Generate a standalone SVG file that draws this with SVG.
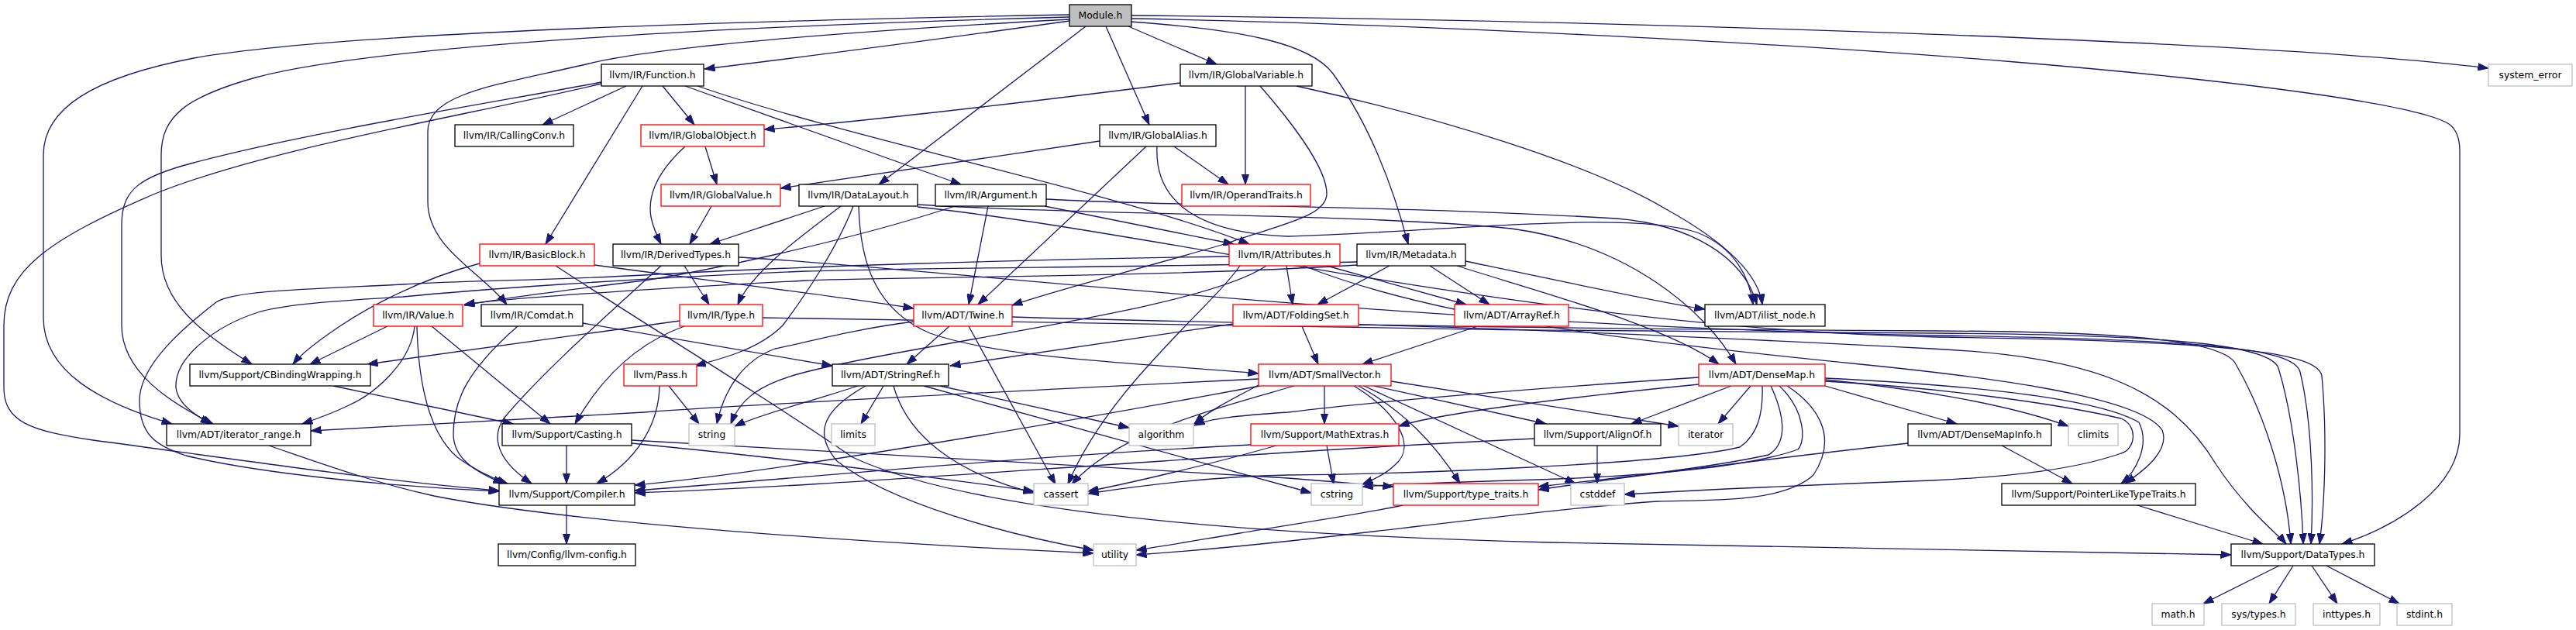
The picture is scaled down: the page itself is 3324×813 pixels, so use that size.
<svg xmlns="http://www.w3.org/2000/svg" width="3324" height="813" viewBox="0 0 3324 813">
<defs>
<marker id="arr" markerUnits="userSpaceOnUse" markerWidth="14" markerHeight="10" refX="13.5" refY="5" orient="auto">
<path d="M0,0.3 L13.5,5 L0,9.7 z" fill="#191970" stroke="#191970" stroke-width="1"/>
</marker>
<style>
.e{fill:none;stroke:#191970;stroke-width:1.3;marker-end:url(#arr)}
.n rect{fill:#fff;stroke:#000;stroke-width:1.3}
.r rect{fill:#fff;stroke:#ff0000;stroke-width:1.3}
.g rect{fill:#fff;stroke:#bfbfbf;stroke-width:1.3}
.m rect{fill:#bfbfbf;stroke:#000;stroke-width:1.3}
text{font-family:"DejaVu Sans","Liberation Sans",sans-serif;font-size:12.4px;fill:#000;text-anchor:middle}
</style>
</defs>
<rect width="3324" height="813" fill="#fff"/>
<g id="edges">
<path class="e" d="M1380,27 C1230,48 1050,72 909,89"/>
<path class="e" d="M1380,19 C1000,26 450,40 250,75 C120,100 56,140 56,200 L56,410 C56,480 130,520 222,547"/>
<path class="e" d="M1380,22 C1000,32 500,55 330,100 C240,125 208,150 208,200 L208,330 C208,390 260,430 325,470"/>
<path class="e" d="M1380,25 C1100,40 850,60 760,82 C640,110 552,120 552,170 L552,260 C552,320 620,350 654,393"/>
<path class="e" d="M1401,34 L1134,238"/>
<path class="e" d="M1427,34 L1483,161"/>
<path class="e" d="M1456,34 L1570,83"/>
<path class="e" d="M1458,28 C1600,38 1690,55 1720,95 C1770,165 1800,250 1817,315"/>
<path class="e" d="M1460,24 C1800,30 2300,55 2600,80 C2900,105 3120,135 3160,160 C3170,167 3174,178 3174,195 L3174,560 C3174,630 3090,680 3022,702"/>
<path class="e" d="M1460,20 C2000,25 2900,50 3211,88"/>
<path class="e" d="M808,111 L700,161"/>
<path class="e" d="M855,111 L896,161"/>
<path class="e" d="M829,111 L704,315"/>
<path class="e" d="M884,111 L1240,238"/>
<path class="e" d="M900,111 C1100,180 1450,250 1612,315"/>
<path class="e" d="M776,106 C650,130 400,170 250,210 C180,228 157,245 157,290 L157,420 C157,480 220,520 275,547"/>
<path class="e" d="M776,108 C600,150 350,190 200,250 C60,310 5,350 5,420 L5,500 C5,545 40,556 120,568 C300,592 500,622 644,633"/>
<path class="e" d="M1523,107 C1300,135 1100,158 986,167"/>
<path class="e" d="M1607,111 L1607,238"/>
<path class="e" d="M1626,111 C1660,150 1712,215 1712,250 C1712,280 1650,290 1580,315 C1460,350 1360,375 1306,394"/>
<path class="e" d="M1673,111 C1850,150 2050,210 2150,270 C2240,320 2270,360 2274,393"/>
<path class="e" d="M1419,182 L1007,243"/>
<path class="e" d="M1479,189 L1262,393"/>
<path class="e" d="M1515,189 L1585,238"/>
<path class="e" d="M1493,189 C1490,250 1530,300 1662,305 C1850,300 2100,270 2190,300 C2240,320 2258,360 2262,393"/>
<path class="e" d="M1275,266 L1250,393"/>
<path class="e" d="M1348,266 L1592,315"/>
<path class="e" d="M1350,257 C1500,266 1800,265 2086,282 C2180,290 2250,330 2267,393"/>
<path class="e" d="M1232,266 C1100,310 900,352 831,362 C700,378 640,386 599,394"/>
<path class="e" d="M1064,266 L916,315"/>
<path class="e" d="M1085,266 C1040,300 970,350 952,393"/>
<path class="e" d="M1101,266 C1080,320 1040,380 1010,420 C980,450 935,462 897,472"/>
<path class="e" d="M1108,266 C1110,340 1130,400 1200,430 C1300,465 1500,470 1624,482"/>
<path class="e" d="M1184,264 C1400,278 1750,275 1950,295 C2100,315 2200,400 2240,470"/>
<path class="e" d="M1184,267 C1500,300 2000,425 2500,435 C2880,440 2990,455 2996,485 C3003,560 3000,650 2993,702"/>
<path class="e" d="M910,189 L925,238"/>
<path class="e" d="M884,189 C850,220 835,250 840,280 C843,295 848,305 853,315"/>
<path class="e" d="M918,266 L890,315"/>
<path class="e" d="M619,340 C540,360 470,400 440,420 C410,440 390,455 378,470"/>
<path class="e" d="M767,342 C900,360 1100,385 1179,398"/>
<path class="e" d="M717,343 C850,430 1000,520 1100,590 C1250,660 1600,690 2000,700 C2400,708 2700,712 2879,716"/>
<path class="e" d="M1660,343 L1668,393"/>
<path class="e" d="M1712,343 L1892,393"/>
<path class="e" d="M1682,343 C1850,410 2100,440 2400,470 C2550,485 2760,510 2790,555 C2800,580 2770,605 2742,624"/>
<path class="e" d="M1634,343 C1550,400 1200,440 1040,480 C980,495 955,515 943,547"/>
<path class="e" d="M1600,343 C1560,400 1430,500 1378,625"/>
<path class="e" d="M1586,331 C1300,335 1000,345 831,355 C700,362 600,362 520,367 C400,373 300,375 279,390 C240,420 180,470 180,517 C180,560 200,575 240,588 C330,610 500,628 644,634"/>
<path class="e" d="M1793,343 L1700,393"/>
<path class="e" d="M1845,343 L1922,393"/>
<path class="e" d="M1891,337 C2000,360 2150,392 2200,399"/>
<path class="e" d="M1880,343 C1980,375 2150,420 2218,470"/>
<path class="e" d="M1751,342 C1500,358 1100,358 1040,362 C800,375 650,385 599,393"/>
<path class="e" d="M1751,338 C1500,345 1200,345 1040,350 C800,360 600,375 520,383 C400,390 360,395 333,403 C280,420 225,460 227,500 C229,520 250,535 272,547"/>
<path class="e" d="M883,343 L915,393"/>
<path class="e" d="M853,343 C780,410 700,480 650,540 C630,570 650,600 686,624"/>
<path class="e" d="M953,332 C1200,345 1800,420 2500,433 C2850,438 2960,450 2968,480 C2985,550 2985,650 2982,702"/>
<path class="e" d="M500,421 L400,470"/>
<path class="e" d="M535,421 C530,470 480,510 450,523 C430,533 410,540 390,547"/>
<path class="e" d="M538,421 C540,500 555,560 590,590 C610,605 630,615 655,624"/>
<path class="e" d="M557,421 L710,547"/>
<path class="e" d="M668,421 C600,480 585,520 585,560 C585,590 610,608 650,624"/>
<path class="e" d="M752,417 L1074,472"/>
<path class="e" d="M883,421 C830,440 780,480 742,547"/>
<path class="e" d="M877,414 L474,470"/>
<path class="e" d="M984,410 C1300,418 2000,428 2500,430 C2800,432 2930,445 2940,475 C2960,540 2970,640 2972,702"/>
<path class="e" d="M1225,421 L1170,470"/>
<path class="e" d="M1250,421 L1362,625"/>
<path class="e" d="M1179,415 C1100,425 1040,442 1000,450 C960,465 935,500 925,547"/>
<path class="e" d="M1306,409 C1500,415 2000,425 2500,427 C2750,428 2870,440 2885,470 C2920,530 2950,620 2956,702"/>
<path class="e" d="M1680,421 L1701,470"/>
<path class="e" d="M1591,418 L1226,472"/>
<path class="e" d="M1753,419 C2000,425 2300,440 2493,450 C2700,460 2800,500 2860,600 C2900,660 2940,690 2950,702"/>
<path class="e" d="M1907,421 L1758,470"/>
<path class="e" d="M430,498 L662,547"/>
<path class="e" d="M863,498 L902,547"/>
<path class="e" d="M851,498 C850,550 820,595 770,624"/>
<path class="e" d="M1140,498 L1111,547"/>
<path class="e" d="M1107,498 C1040,520 980,535 948,550"/>
<path class="e" d="M1153,498 C1170,560 1230,610 1334,636"/>
<path class="e" d="M1213,498 L1457,552"/>
<path class="e" d="M1117,498 C1060,530 1050,560 1080,595 C1150,650 1300,690 1411,710"/>
<path class="e" d="M1192,498 L1692,636"/>
<path class="e" d="M1709,498 L1709,547"/>
<path class="e" d="M1747,498 C1800,530 1830,575 1800,600 C1790,610 1775,618 1758,625"/>
<path class="e" d="M1753,498 C1810,530 1850,570 1884,624"/>
<path class="e" d="M1760,498 L2033,624"/>
<path class="e" d="M1773,498 L1995,547"/>
<path class="e" d="M1795,492 L2166,550"/>
<path class="e" d="M1624,497 C1590,515 1560,530 1541,547"/>
<path class="e" d="M1670,498 C1560,530 1440,560 1383,625"/>
<path class="e" d="M1624,489 C1400,500 1000,520 831,532 C600,545 450,552 401,556"/>
<path class="e" d="M1626,498 C1400,540 1000,610 819,626"/>
<path class="e" d="M2192,496 C2000,515 1850,535 1805,550"/>
<path class="e" d="M2192,487 C2000,500 1800,515 1662,532 C1600,536 1560,540 1541,549"/>
<path class="e" d="M2234,498 L2105,547"/>
<path class="e" d="M2259,498 L2217,547"/>
<path class="e" d="M2274,498 C2275,530 2270,560 2245,577 C2150,600 1800,612 1662,613 C1550,615 1450,630 1404,637"/>
<path class="e" d="M2296,498 C2330,530 2330,570 2320,580 C2250,605 2100,615 1985,619 C1880,622 1800,625 1758,628"/>
<path class="e" d="M2285,498 C2300,530 2310,570 2282,587 C2200,605 2060,620 1985,628"/>
<path class="e" d="M2355,492 C2500,500 2650,520 2737,540 C2760,550 2755,580 2737,585 C2680,605 2600,615 2493,620 C2300,627 2200,632 2096,638"/>
<path class="e" d="M2306,498 C2340,520 2375,560 2340,613 C2300,650 2200,645 2139,647 C1950,660 1700,700 1466,716"/>
<path class="e" d="M2355,498 L2525,547"/>
<path class="e" d="M2355,490 C2500,505 2600,525 2669,550"/>
<path class="e" d="M2355,488 C2500,495 2700,510 2760,545 C2775,575 2755,610 2737,624"/>
<path class="e" d="M347,575 C420,600 480,622 560,640 C700,668 1000,695 1411,714"/>
<path class="e" d="M731,575 L731,624"/>
<path class="e" d="M815,568 C1000,580 1400,600 1662,617 C1700,620 1760,625 1798,628"/>
<path class="e" d="M815,572 C1000,590 1200,615 1334,634"/>
<path class="e" d="M1712,575 L1721,625"/>
<path class="e" d="M1614,574 C1300,590 1000,620 819,633"/>
<path class="e" d="M1647,575 C1560,600 1450,625 1404,634"/>
<path class="e" d="M2061,575 L2061,624"/>
<path class="e" d="M1980,566 C1800,575 1662,583 1500,595 C1200,615 1000,630 819,636"/>
<path class="e" d="M2583,575 L2674,624"/>
<path class="e" d="M2462,572 C2300,590 2100,615 1985,632"/>
<path class="e" d="M2758,652 L2920,702"/>
<path class="e" d="M731,652 L731,702"/>
<path class="e" d="M1810,652 C1750,665 1662,677 1600,688 C1540,698 1500,705 1466,710"/>
<path class="e" d="M2941,730 L2843,779"/>
<path class="e" d="M2959,730 L2928,779"/>
<path class="e" d="M2983,730 L3016,779"/>
<path class="e" d="M3002,730 L3096,779"/>
</g>
<g id="n0" class="m"><rect x="1380" y="6" width="80" height="28"/><text x="1420" y="24.3">Module.h</text></g>
<g id="n1" class="n"><rect x="776" y="83" width="132" height="28"/><text x="842" y="101.3">llvm/IR/Function.h</text></g>
<g id="n2" class="n"><rect x="1523" y="83" width="170" height="28"/><text x="1608" y="101.3">llvm/IR/GlobalVariable.h</text></g>
<g id="n3" class="g"><rect x="3211" y="83" width="108" height="28"/><text x="3265" y="101.3">system_error</text></g>
<g id="n4" class="n"><rect x="587" y="161" width="153" height="28"/><text x="663.5" y="179.3">llvm/IR/CallingConv.h</text></g>
<g id="n5" class="r"><rect x="827" y="161" width="159" height="28"/><text x="906.5" y="179.3">llvm/IR/GlobalObject.h</text></g>
<g id="n6" class="n"><rect x="1419" y="161" width="150" height="28"/><text x="1494" y="179.3">llvm/IR/GlobalAlias.h</text></g>
<g id="n7" class="r"><rect x="853" y="238" width="154" height="28"/><text x="930" y="256.3">llvm/IR/GlobalValue.h</text></g>
<g id="n8" class="n"><rect x="1031" y="238" width="153" height="28"/><text x="1107.5" y="256.3">llvm/IR/DataLayout.h</text></g>
<g id="n9" class="n"><rect x="1207" y="238" width="143" height="28"/><text x="1278.5" y="256.3">llvm/IR/Argument.h</text></g>
<g id="n10" class="r"><rect x="1525" y="238" width="166" height="28"/><text x="1608" y="256.3">llvm/IR/OperandTraits.h</text></g>
<g id="n11" class="r"><rect x="619" y="315" width="148" height="28"/><text x="693" y="333.3">llvm/IR/BasicBlock.h</text></g>
<g id="n12" class="n"><rect x="791" y="315" width="162" height="28"/><text x="872" y="333.3">llvm/IR/DerivedTypes.h</text></g>
<g id="n13" class="r"><rect x="1586" y="315" width="143" height="28"/><text x="1657.5" y="333.3">llvm/IR/Attributes.h</text></g>
<g id="n14" class="n"><rect x="1751" y="315" width="140" height="28"/><text x="1821" y="333.3">llvm/IR/Metadata.h</text></g>
<g id="n15" class="r"><rect x="482" y="393" width="115" height="28"/><text x="539.5" y="411.3">llvm/IR/Value.h</text></g>
<g id="n16" class="n"><rect x="621" y="393" width="131" height="28"/><text x="686.5" y="411.3">llvm/IR/Comdat.h</text></g>
<g id="n17" class="r"><rect x="877" y="393" width="107" height="28"/><text x="930.5" y="411.3">llvm/IR/Type.h</text></g>
<g id="n18" class="r"><rect x="1179" y="393" width="127" height="28"/><text x="1242.5" y="411.3">llvm/ADT/Twine.h</text></g>
<g id="n19" class="r"><rect x="1591" y="393" width="162" height="28"/><text x="1672" y="411.3">llvm/ADT/FoldingSet.h</text></g>
<g id="n20" class="r"><rect x="1877" y="393" width="147" height="28"/><text x="1950.5" y="411.3">llvm/ADT/ArrayRef.h</text></g>
<g id="n21" class="n"><rect x="2200" y="393" width="155" height="28"/><text x="2277.5" y="411.3">llvm/ADT/ilist_node.h</text></g>
<g id="n22" class="n"><rect x="245" y="470" width="233" height="28"/><text x="361.5" y="488.3">llvm/Support/CBindingWrapping.h</text></g>
<g id="n23" class="r"><rect x="805" y="470" width="94" height="28"/><text x="852" y="488.3">llvm/Pass.h</text></g>
<g id="n24" class="n"><rect x="1074" y="470" width="150" height="28"/><text x="1149" y="488.3">llvm/ADT/StringRef.h</text></g>
<g id="n25" class="r"><rect x="1624" y="470" width="171" height="28"/><text x="1709.5" y="488.3">llvm/ADT/SmallVector.h</text></g>
<g id="n26" class="r"><rect x="2192" y="470" width="163" height="28"/><text x="2273.5" y="488.3">llvm/ADT/DenseMap.h</text></g>
<g id="n27" class="n"><rect x="215" y="547" width="186" height="28"/><text x="308" y="565.3">llvm/ADT/iterator_range.h</text></g>
<g id="n28" class="n"><rect x="648" y="547" width="167" height="28"/><text x="731.5" y="565.3">llvm/Support/Casting.h</text></g>
<g id="n29" class="g"><rect x="889" y="547" width="59" height="28"/><text x="918.5" y="565.3">string</text></g>
<g id="n30" class="g"><rect x="1073" y="547" width="56" height="28"/><text x="1101" y="565.3">limits</text></g>
<g id="n31" class="g"><rect x="1457" y="547" width="83" height="28"/><text x="1498.5" y="565.3">algorithm</text></g>
<g id="n32" class="r"><rect x="1614" y="547" width="191" height="28"/><text x="1709.5" y="565.3">llvm/Support/MathExtras.h</text></g>
<g id="n33" class="n"><rect x="1980" y="547" width="163" height="28"/><text x="2061.5" y="565.3">llvm/Support/AlignOf.h</text></g>
<g id="n34" class="g"><rect x="2166" y="547" width="70" height="28"/><text x="2201" y="565.3">iterator</text></g>
<g id="n35" class="n"><rect x="2462" y="547" width="185" height="28"/><text x="2554.5" y="565.3">llvm/ADT/DenseMapInfo.h</text></g>
<g id="n36" class="g"><rect x="2669" y="547" width="64" height="28"/><text x="2701" y="565.3">climits</text></g>
<g id="n37" class="n"><rect x="644" y="624" width="175" height="28"/><text x="731.5" y="642.3">llvm/Support/Compiler.h</text></g>
<g id="n38" class="g"><rect x="1334" y="624" width="70" height="28"/><text x="1369" y="642.3">cassert</text></g>
<g id="n39" class="g"><rect x="1692" y="624" width="66" height="28"/><text x="1725" y="642.3">cstring</text></g>
<g id="n40" class="r"><rect x="1798" y="624" width="187" height="28"/><text x="1891.5" y="642.3">llvm/Support/type_traits.h</text></g>
<g id="n41" class="g"><rect x="2027" y="624" width="69" height="28"/><text x="2061.5" y="642.3">cstddef</text></g>
<g id="n42" class="n"><rect x="2583" y="624" width="250" height="28"/><text x="2708" y="642.3">llvm/Support/PointerLikeTypeTraits.h</text></g>
<g id="n43" class="n"><rect x="643" y="702" width="177" height="28"/><text x="731.5" y="720.3">llvm/Config/llvm-config.h</text></g>
<g id="n44" class="g"><rect x="1411" y="702" width="55" height="28"/><text x="1438.5" y="720.3">utility</text></g>
<g id="n45" class="n"><rect x="2879" y="702" width="185" height="28"/><text x="2971.5" y="720.3">llvm/Support/DataTypes.h</text></g>
<g id="n46" class="g"><rect x="2777" y="779" width="67" height="28"/><text x="2810.5" y="797.3">math.h</text></g>
<g id="n47" class="g"><rect x="2867" y="779" width="95" height="28"/><text x="2914.5" y="797.3">sys/types.h</text></g>
<g id="n48" class="g"><rect x="2985" y="779" width="86" height="28"/><text x="3028" y="797.3">inttypes.h</text></g>
<g id="n49" class="g"><rect x="3093" y="779" width="71" height="28"/><text x="3128.5" y="797.3">stdint.h</text></g>
</svg>
